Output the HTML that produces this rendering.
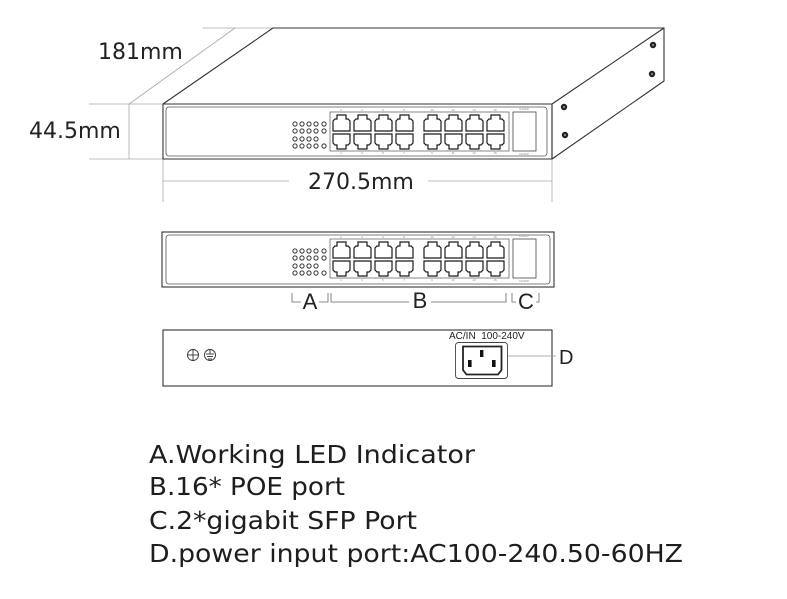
<!DOCTYPE html>
<html>
<head>
<meta charset="utf-8">
<style>
html,body{margin:0;padding:0;background:#fff;}
svg{display:block;}
</style>
</head>
<body>
<svg width="787" height="599" viewBox="0 0 787 599" xmlns="http://www.w3.org/2000/svg">
<defs>
  <path id="pt" d="M0,17 V7 L2,5 H4 V1 H13 V5 H15 L17,7 V17 Z" fill="none" stroke="#1a1a1a" stroke-width="1.2"/>
  <path id="pb" d="M0,0 V9 L2,11 H4 V15 H13 V11 H15 L17,9 V0 Z" fill="none" stroke="#1a1a1a" stroke-width="1.2"/>
  <g id="face">
    <!-- LEDs -->
    <g fill="none" stroke="#333" stroke-width="1">
      <circle cx="295" cy="124" r="2.1"/><circle cx="302" cy="124" r="2.1"/><circle cx="309" cy="124" r="2.1"/><circle cx="316" cy="124" r="2.1"/><circle cx="324" cy="124" r="2.1"/>
      <circle cx="295" cy="131" r="2.1"/><circle cx="302" cy="131" r="2.1"/><circle cx="309" cy="131" r="2.1"/><circle cx="316" cy="131" r="2.1"/><circle cx="324" cy="131" r="2.1"/>
      <circle cx="295" cy="139" r="2.1"/><circle cx="302" cy="139" r="2.1"/><circle cx="309" cy="139" r="2.1"/><circle cx="316" cy="139" r="2.1"/>
      <circle cx="295" cy="146" r="2.1"/><circle cx="302" cy="146" r="2.1"/><circle cx="309" cy="146" r="2.1"/><circle cx="316" cy="146" r="2.1"/><circle cx="324" cy="146" r="2.1"/>
    </g>
    <!-- port block outline -->
    <rect x="330" y="112" width="179" height="39" fill="none" stroke="#555" stroke-width="0.7"/>
    <!-- ports -->
    <use href="#pt" x="333" y="114"/><use href="#pt" x="354" y="114"/><use href="#pt" x="375" y="114"/><use href="#pt" x="396" y="114"/>
    <use href="#pt" x="424" y="114"/><use href="#pt" x="445" y="114"/><use href="#pt" x="466" y="114"/><use href="#pt" x="487" y="114"/>
    <use href="#pb" x="333" y="134"/><use href="#pb" x="354" y="134"/><use href="#pb" x="375" y="134"/><use href="#pb" x="396" y="134"/>
    <use href="#pb" x="424" y="134"/><use href="#pb" x="445" y="134"/><use href="#pb" x="466" y="134"/><use href="#pb" x="487" y="134"/>
    <g font-family="Liberation Sans, sans-serif" font-size="3" fill="#888" text-anchor="middle">
      <text x="341" y="111">2</text><text x="362" y="111">4</text><text x="383" y="111">6</text><text x="404" y="111">8</text>
      <text x="432" y="111">10</text><text x="453" y="111">12</text><text x="474" y="111">14</text><text x="495" y="111">16</text>
      <text x="341" y="154">1</text><text x="362" y="154">3</text><text x="383" y="154">5</text><text x="404" y="154">7</text>
      <text x="432" y="154">9</text><text x="453" y="154">11</text><text x="474" y="154">13</text><text x="495" y="154">15</text>
      <text x="524" y="110">G1SFP</text><text x="524" y="155">G2SFP</text>
    </g>
    <!-- SFP -->
    <rect x="513" y="112" width="23" height="39" fill="none" stroke="#444" stroke-width="0.8"/>
  </g>
</defs>

<!-- ===== Dimension lines (grey) ===== -->
<g stroke="#aaa" stroke-width="0.8" fill="none">
  <line x1="89" y1="104" x2="163" y2="104"/>
  <line x1="89" y1="159" x2="163" y2="159"/>
  <line x1="129" y1="104" x2="129" y2="159"/>
  <line x1="129" y1="104" x2="235" y2="28"/>
  <line x1="203" y1="28" x2="273" y2="28"/>
  <line x1="163" y1="159" x2="163" y2="202"/>
  <line x1="552" y1="159" x2="552" y2="202"/>
  <line x1="163" y1="181" x2="289" y2="181"/>
  <line x1="428" y1="181" x2="552" y2="181"/>
</g>
<g font-family="DejaVu Sans, sans-serif" font-size="22" fill="#222">
  <text x="98" y="59">181mm</text>
  <text x="29" y="138">44.5mm</text>
  <text x="308" y="189">270.5mm</text>
</g>

<!-- ===== Box 1 (perspective) ===== -->
<g stroke="#333" stroke-width="1.1" fill="none" stroke-linejoin="round">
  <line x1="163" y1="104" x2="273" y2="28"/>
  <line x1="273" y1="28" x2="664" y2="28"/>
  <polygon points="552,104 664,28 664,81 552,159"/>
  <rect x="163" y="104" width="389" height="55"/>
</g>
<rect x="166" y="107" width="381" height="49" rx="3" fill="none" stroke="#555" stroke-width="0.8"/>
<g fill="#222">
  <circle cx="653" cy="45" r="3.2"/><circle cx="652" cy="74" r="3.2"/>
  <circle cx="564" cy="107" r="3.2"/><circle cx="565" cy="135" r="3.2"/>
</g>
<g fill="#888">
  <circle cx="653" cy="45" r="1.1"/><circle cx="652" cy="74" r="1.1"/>
  <circle cx="564" cy="107" r="1.1"/><circle cx="565" cy="135" r="1.1"/>
</g>
<use href="#face"/>

<!-- ===== Box 2 (front) ===== -->
<rect x="162" y="232" width="392" height="55" fill="none" stroke="#333" stroke-width="1.1"/>
<rect x="166" y="235" width="384" height="49" rx="3" fill="none" stroke="#555" stroke-width="0.8"/>
<use href="#face" transform="translate(0,127)"/>

<!-- brackets -->
<g stroke="#666" stroke-width="0.8" fill="none">
  <path d="M292,293 V302 H301"/>
  <path d="M319,302 H328 V293"/>
  <path d="M331,293 V302 H409"/>
  <path d="M431,302 H506 V293"/>
  <path d="M512,293 V302 H516"/>
  <path d="M536,302 H539 V293"/>
</g>
<g font-family="Liberation Sans, sans-serif" font-size="22" fill="#222" text-anchor="middle">
  <text x="310" y="309">A</text>
  <text x="420" y="308">B</text>
  <text x="526" y="309">C</text>
</g>

<!-- ===== Back panel ===== -->
<rect x="163" y="330" width="389" height="56" fill="none" stroke="#333" stroke-width="1.1"/>
<g stroke="#333" stroke-width="0.9" fill="none">
  <circle cx="193" cy="355" r="5.5"/>
  <line x1="187.5" y1="355" x2="198.5" y2="355"/>
  <line x1="193" y1="349.5" x2="193" y2="360.5"/>
  <circle cx="210" cy="355" r="5.5"/>
  <line x1="210" y1="350" x2="210" y2="354"/>
  <line x1="206" y1="354" x2="214" y2="354"/>
  <line x1="207" y1="356.5" x2="213" y2="356.5"/>
  <line x1="208" y1="359" x2="212" y2="359"/>
</g>
<text x="449" y="339" font-family="Liberation Sans, sans-serif" font-size="10" fill="#222" xml:space="preserve">AC/IN  100-240V</text>
<rect x="455.5" y="342.5" width="52" height="36" rx="3" fill="none" stroke="#444" stroke-width="0.9"/>
<path d="M463,346.5 H501.5 V370 L498,374.5 H466.5 L463,370 Z" fill="none" stroke="#222" stroke-width="1.8"/>
<g fill="#111">
  <rect x="480" y="350" width="3.4" height="7"/>
  <rect x="468" y="360" width="3.6" height="7"/>
  <rect x="492" y="360" width="3.6" height="7"/>
</g>
<line x1="508" y1="356" x2="556" y2="356" stroke="#999" stroke-width="0.8"/>
<text x="559" y="364" font-family="Liberation Sans, sans-serif" font-size="20" fill="#222">D</text>

<!-- ===== Legend ===== -->
<g font-family="DejaVu Sans, sans-serif" font-size="25" fill="#1e1e1e">
  <text x="149" y="463" textLength="326" lengthAdjust="spacingAndGlyphs">A.Working LED Indicator</text>
  <text x="149" y="495" textLength="196" lengthAdjust="spacingAndGlyphs">B.16* POE port</text>
  <text x="149" y="529" textLength="268" lengthAdjust="spacingAndGlyphs">C.2*gigabit SFP Port</text>
  <text x="149" y="562" textLength="534" lengthAdjust="spacingAndGlyphs">D.power input port:AC100-240.50-60HZ</text>
</g>
</svg>
</body>
</html>
